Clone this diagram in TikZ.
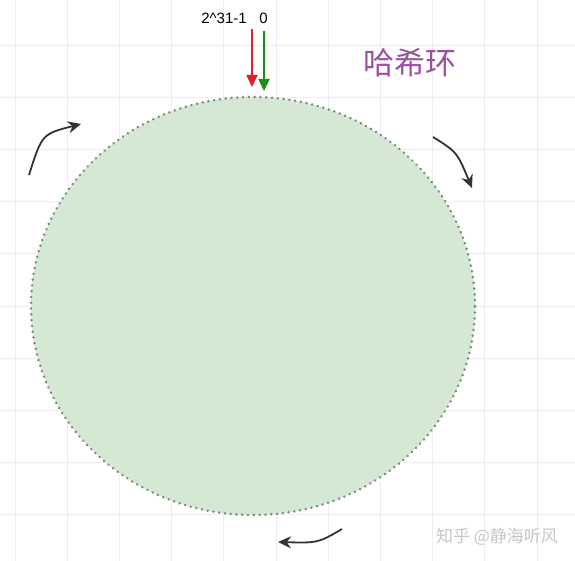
\documentclass[tikz,border=0pt]{standalone}
\usepackage{fontspec}
\setmainfont{Liberation Sans}
\newfontfamily\cjk{Noto Sans CJK SC}
\usetikzlibrary{arrows.meta, shapes.geometric}
\definecolor{ringfill}{HTML}{D5E8D4}
\definecolor{ringdots}{HTML}{7F897F}
\definecolor{titlepurple}{HTML}{9A4F9F}
\definecolor{maxred}{HTML}{E0202A}
\definecolor{zerogreen}{HTML}{1E8C1E}
\tikzset{
    grid line/.style = {draw = black!7, line width = 0.8pt},
    ring/.style = {ellipse, fill = ringfill, draw = ringdots, line width = 2.8pt,
        line cap = round, dash pattern = on 0.01pt off 5.8pt,
        minimum width = 444pt, minimum height = 418pt, inner sep = 0pt},
    mark label/.style = {font = \fontsize{15}{17}\selectfont, inner sep = 0pt},
    title/.style = {font = \cjk\fontsize{31}{33}\selectfont, text = titlepurple, inner sep = 0pt},
    watermark/.style = {font = \cjk\fontsize{17}{19}\selectfont, text = black!22, inner sep = 0pt},
    pointer/.style = {-{Triangle[length = 12pt, width = 11pt]}, line width = 1.8pt},
    turn/.style = {-{Stealth[length = 13pt, width = 12pt]}, line width = 1.8pt, draw = black!80}
}

\begin{document}
\begin{tikzpicture}[x = 1pt, y = -1pt]
    \useasboundingbox [fill = white] (0,0) rectangle (575,561);
    % background grid
    \foreach \gx in {0,...,10}
        \draw [grid line] (15 + 52.2*\gx, 0) -- (15 + 52.2*\gx, 561);
    \foreach \gy in {0,...,9}
        \draw [grid line] (0, 45 + 52.2*\gy) -- (575, 45 + 52.2*\gy);

    \node [ring] (ring) at (253,306) {};

    \node [mark label] (max) at (224,18.5) {2\^{}31-1};
    \node [mark label] (zero) at (263.5,18.5) {0};
    \node [title] (name) at (410,63) {哈希环};
    \node [watermark] (credit) at (497,537) {知乎 @静海听风};

    \coordinate (max from) at (252,29);
    \coordinate (max to) at (252,87);
    \coordinate (zero from) at (264,31);
    \coordinate (zero to) at (264,91);
    \draw [pointer, draw = maxred, fill = maxred] (max from) -- (max to);
    \draw [pointer, draw = zerogreen, fill = zerogreen] (zero from) -- (zero to);

    % direction of travel
    \coordinate (left from) at (29,175);
    \coordinate (left to) at (81,124);
    \coordinate (right from) at (433,137);
    \coordinate (right to) at (472,188);
    \coordinate (low from) at (342,529);
    \coordinate (low to) at (278,542);
    \draw [turn] (left from) .. controls (42,134) .. (left to);
    \draw [turn] (right from) .. controls (457,152) .. (right to);
    \draw [turn] (low from) .. controls (318,543) .. (low to);
\end{tikzpicture}
\end{document}
